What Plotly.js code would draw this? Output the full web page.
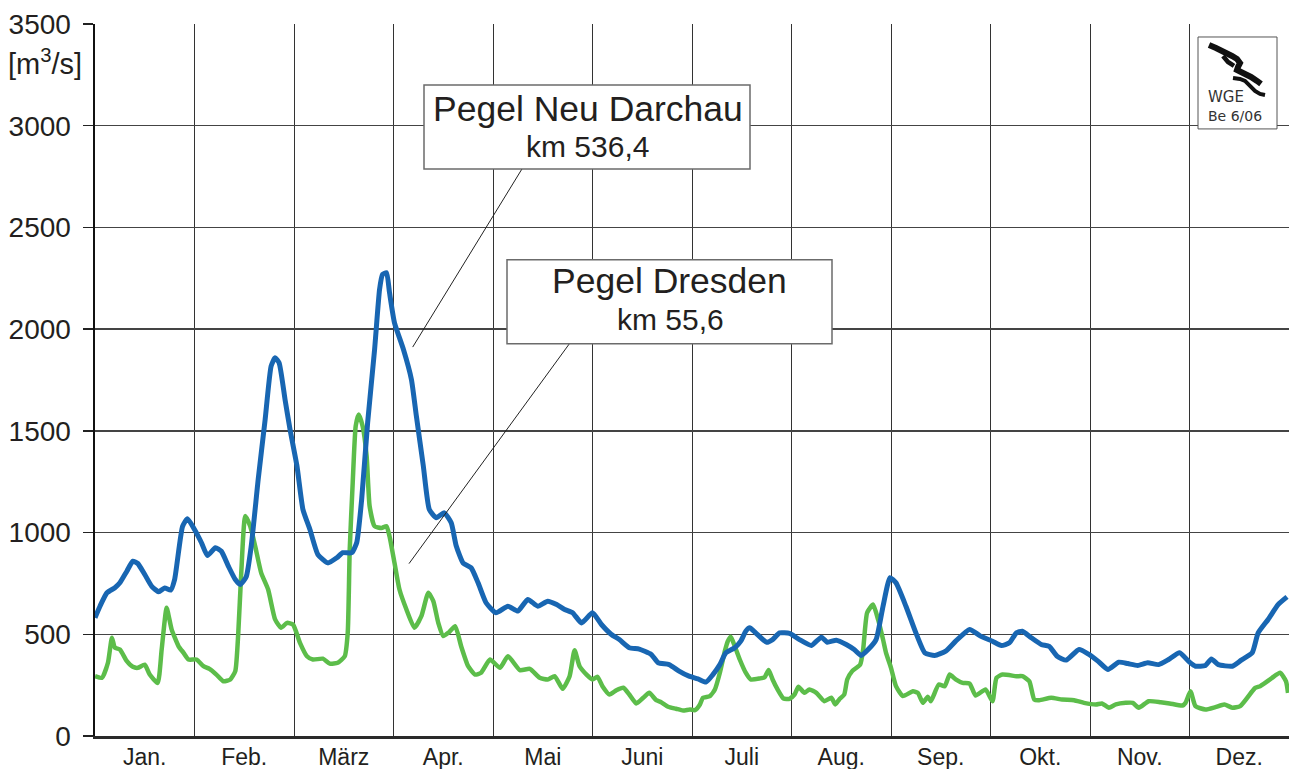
<!DOCTYPE html>
<html>
<head>
<meta charset="utf-8">
<script src="https://cdn.plot.ly/plotly-3.0.1.min.js"></script>
<style>
  html, body { margin: 0; padding: 0; background: #fff; }
  #chart { width: 1290px; height: 769px; }
</style>
</head>
<body>
<div id="chart"></div>
<script>
// ---------- data ----------
const monthLabels = ['Jan.', 'Feb.', 'März', 'Apr.', 'Mai', 'Juni', 'Juli', 'Aug.', 'Sep.', 'Okt.', 'Nov.', 'Dez.'];
const monthCenters = [0.5, 1.5, 2.5, 3.5, 4.5, 5.5, 6.5, 7.5, 8.5, 9.5, 10.5, 11.5];
const yTickVals = [0, 500, 1000, 1500, 2000, 2500, 3000, 3500];

// x = position in months (0 = 1 Jan, 12 = 31 Dec), value = discharge m3/s
const darchauX = [0.00,0.05,0.12,0.20,0.25,0.32,0.38,0.43,0.50,0.57,0.64,0.70,0.76,0.80,0.88,0.93,1.00,1.07,1.13,1.21,1.27,1.34,1.41,1.46,1.52,1.57,1.64,1.71,1.77,1.81,1.85,1.91,1.96,2.03,2.09,2.16,2.24,2.34,2.43,2.49,2.58,2.63,2.68,2.74,2.81,2.86,2.89,2.93,2.96,3.01,3.10,3.18,3.23,3.30,3.36,3.43,3.51,3.58,3.63,3.70,3.78,3.85,3.93,4.03,4.15,4.25,4.35,4.45,4.55,4.64,4.72,4.80,4.89,5.00,5.09,5.19,5.27,5.37,5.47,5.59,5.66,5.77,5.87,5.97,6.06,6.14,6.21,6.28,6.34,6.43,6.49,6.54,6.58,6.64,6.75,6.81,6.88,6.98,7.08,7.20,7.30,7.36,7.45,7.55,7.63,7.70,7.77,7.85,7.92,7.99,8.05,8.15,8.25,8.34,8.44,8.55,8.65,8.79,8.90,9.02,9.11,9.19,9.26,9.32,9.41,9.51,9.59,9.67,9.76,9.89,9.99,10.08,10.18,10.29,10.38,10.48,10.58,10.69,10.79,10.90,11.00,11.06,11.16,11.22,11.29,11.43,11.52,11.63,11.69,11.79,11.89,11.98];
const darchauQ = [581,638,704,729,753,810,859,848,794,736,709,728,717,769,1031,1068,1015,950,887,925,908,835,769,745,783,933,1261,1556,1818,1859,1835,1654,1507,1326,1113,1015,892,851,876,901,901,950,1163,1540,1900,2195,2269,2277,2179,2031,1900,1753,1572,1326,1113,1073,1097,1048,935,850,827,753,655,606,638,614,671,638,663,646,622,606,556,606,548,499,474,434,427,401,360,351,319,294,281,265,302,351,409,434,466,515,532,507,461,474,507,504,474,445,486,461,471,450,425,396,425,474,638,778,753,638,507,409,396,417,466,524,491,466,445,458,507,515,483,450,441,392,373,425,401,368,327,363,356,347,360,351,376,409,363,343,347,379,351,343,373,409,507,573,646,684];

const dresdenX = [0.00,0.07,0.13,0.17,0.20,0.25,0.32,0.38,0.43,0.50,0.55,0.63,0.67,0.72,0.77,0.84,0.89,0.94,1.02,1.09,1.15,1.22,1.29,1.36,1.41,1.44,1.47,1.51,1.56,1.61,1.67,1.74,1.81,1.87,1.93,1.99,2.06,2.13,2.19,2.29,2.36,2.44,2.51,2.54,2.56,2.59,2.62,2.65,2.69,2.73,2.76,2.81,2.88,2.93,2.96,3.01,3.06,3.13,3.21,3.28,3.35,3.40,3.45,3.50,3.55,3.62,3.68,3.75,3.82,3.88,3.97,4.07,4.15,4.27,4.37,4.47,4.55,4.62,4.70,4.77,4.82,4.87,4.94,5.00,5.05,5.10,5.17,5.24,5.31,5.37,5.44,5.51,5.57,5.64,5.69,5.76,5.84,5.91,5.98,6.03,6.08,6.11,6.18,6.23,6.28,6.33,6.36,6.39,6.43,6.48,6.54,6.59,6.68,6.73,6.77,6.81,6.86,6.92,6.98,7.03,7.07,7.13,7.18,7.25,7.33,7.40,7.44,7.48,7.53,7.56,7.61,7.69,7.72,7.76,7.82,7.87,7.92,7.95,8.00,8.05,8.12,8.22,8.27,8.32,8.37,8.40,8.48,8.54,8.59,8.65,8.72,8.79,8.85,8.95,9.02,9.06,9.12,9.26,9.32,9.39,9.44,9.49,9.61,9.72,9.84,9.94,10.06,10.12,10.19,10.26,10.36,10.43,10.49,10.59,10.71,10.80,10.93,10.96,11.01,11.06,11.16,11.26,11.35,11.43,11.51,11.63,11.66,11.71,11.76,11.83,11.91,11.97,11.99];
const dresdenQ = [294,286,360,483,434,425,368,340,335,351,302,261,425,630,524,441,409,376,376,343,330,302,269,278,319,507,802,1081,1031,933,802,720,573,532,556,548,458,392,376,380,356,360,392,507,917,1245,1523,1581,1523,1375,1130,1031,1023,1031,982,851,720,622,532,589,704,663,556,491,507,540,441,343,302,311,376,335,392,324,330,286,278,294,232,294,422,343,302,278,291,245,204,225,237,204,160,188,212,176,166,144,134,125,130,127,155,188,196,229,311,417,466,488,441,376,311,278,283,289,324,278,229,184,183,204,242,212,229,212,171,188,155,180,204,278,319,351,425,606,646,573,474,409,335,245,196,220,212,163,193,171,253,245,302,278,261,258,199,229,171,286,302,294,294,269,179,176,188,179,176,163,155,160,139,155,163,163,139,171,166,160,150,163,220,147,130,142,155,139,147,220,237,245,261,286,311,269,212];

// ---------- geometry helpers for decoration (pixel -> paper) ----------
const W = 1290, H = 769;
const M = { l: 95, r: 1, t: 24, b: 32.5 };
const PW = W - M.l - M.r, PH = H - M.t - M.b;
const px = x => (x - M.l) / PW;
const py = y => (H - M.b - y) / PH;
function pathFrom(points) {
  return points.map((p, i) => (i ? 'L' : 'M') + px(p[0]).toFixed(5) + ',' + py(p[1]).toFixed(5)).join(' ');
}

const FONT = 'Liberation Sans, Arial, Helvetica, sans-serif';
const TXT = '#231f20';

const traces = [
  {
    x: dresdenX, y: dresdenQ, type: 'scatter', mode: 'lines', name: 'Pegel Dresden',
    line: { color: '#5cbd4a', width: 4.5, shape: 'spline', smoothing: 0.5 }, hoverinfo: 'x+y'
  },
  {
    x: darchauX, y: darchauQ, type: 'scatter', mode: 'lines', name: 'Pegel Neu Darchau',
    line: { color: '#1866b2', width: 5, shape: 'spline', smoothing: 0.5 }, hoverinfo: 'x+y'
  }
];

const shapes = [
  // label boxes
  { type: 'rect', xref: 'paper', yref: 'paper', x0: px(424), x1: px(750), y0: py(169), y1: py(85),
    fillcolor: '#ffffff', line: { color: '#6b6b6b', width: 1.5 }, layer: 'above' },
  { type: 'rect', xref: 'paper', yref: 'paper', x0: px(507), x1: px(832), y0: py(344), y1: py(260),
    fillcolor: '#ffffff', line: { color: '#6b6b6b', width: 1.5 }, layer: 'above' },
  // leader lines
  { type: 'line', xref: 'paper', yref: 'paper', x0: px(521.7), y0: py(169.5), x1: px(412.7), y1: py(347.3),
    line: { color: '#222', width: 1 }, layer: 'above' },
  { type: 'line', xref: 'paper', yref: 'paper', x0: px(569), y0: py(344.5), x1: px(409), y1: py(564),
    line: { color: '#222', width: 1 }, layer: 'above' },
  // logo box
  { type: 'rect', xref: 'paper', yref: 'paper', x0: px(1198), x1: px(1277), y0: py(129), y1: py(37),
    fillcolor: '#ffffff', line: { color: '#555', width: 1 }, layer: 'above' },
  // logo strokes
  { type: 'path', xref: 'paper', yref: 'paper', layer: 'above',
    path: pathFrom([[1209,45],[1216,48],[1224,52],[1232,56],[1237,59],[1240,63],[1238,67],[1237,70],[1243,73],[1251,77],[1257,81],[1261,84]]),
    line: { color: '#111', width: 6 } },
  { type: 'path', xref: 'paper', yref: 'paper', layer: 'above',
    path: pathFrom([[1223,56],[1228,62],[1234,66]]),
    line: { color: '#111', width: 4.5 } },
  { type: 'path', xref: 'paper', yref: 'paper', layer: 'above',
    path: pathFrom([[1233,78],[1240,79],[1245,81],[1250,86],[1255,91],[1260,94],[1265,95]]),
    line: { color: '#111', width: 4 } }
];

const annotations = [
  { xref: 'paper', yref: 'paper', x: px(587.5), y: py(109), xanchor: 'center', yanchor: 'middle', showarrow: false,
    text: 'Pegel Neu Darchau', font: { family: FONT, size: 35.5, color: TXT } },
  { xref: 'paper', yref: 'paper', x: px(587.5), y: py(147), xanchor: 'center', yanchor: 'middle', showarrow: false,
    text: 'km 536,4', font: { family: FONT, size: 30, color: TXT } },
  { xref: 'paper', yref: 'paper', x: px(669.5), y: py(281), xanchor: 'center', yanchor: 'middle', showarrow: false,
    text: 'Pegel Dresden', font: { family: FONT, size: 35.5, color: TXT } },
  { xref: 'paper', yref: 'paper', x: px(670), y: py(320), xanchor: 'center', yanchor: 'middle', showarrow: false,
    text: 'km 55,6', font: { family: FONT, size: 30, color: TXT } },
  // unit
  { xref: 'paper', yref: 'paper', x: px(45), y: py(62), xanchor: 'center', yanchor: 'middle', showarrow: false,
    text: '[m<sup>3</sup>/s]', font: { family: FONT, size: 29, color: TXT } },
  // logo text
  { xref: 'paper', yref: 'paper', x: px(1206), y: py(97.5), xanchor: 'left', yanchor: 'middle', showarrow: false,
    text: 'WGE', font: { family: 'DejaVu Sans, sans-serif', size: 15, color: '#333' } },
  { xref: 'paper', yref: 'paper', x: px(1206), y: py(116), xanchor: 'left', yanchor: 'middle', showarrow: false,
    text: 'Be 6/06', font: { family: 'DejaVu Sans, sans-serif', size: 14, color: '#333' } }
];

const layout = {
  width: W, height: H,
  margin: { l: M.l, r: M.r, t: M.t, b: M.b, pad: 0 },
  paper_bgcolor: '#ffffff', plot_bgcolor: '#ffffff',
  showlegend: false,
  font: { family: FONT, color: TXT },
  xaxis: {
    range: [0, 12], fixedrange: true,
    tickmode: 'array', tickvals: monthCenters, ticktext: monthLabels,
    ticks: '', showgrid: false, zeroline: false,
    showline: true, linecolor: '#2a2a2a', linewidth: 3,
    tickfont: { family: FONT, size: 23, color: TXT },
    ticklabelstandoff: -2,
    minor: { tick0: 0, dtick: 1, showgrid: true, gridcolor: '#333333', gridwidth: 1, ticks: '' }
  },
  yaxis: {
    range: [0, 3500], fixedrange: true,
    tickmode: 'array', tickvals: yTickVals,
    ticks: 'outside', ticklen: 10, tickwidth: 1.5, tickcolor: '#222',
    showgrid: true, gridcolor: '#444444', gridwidth: 1.3, zeroline: false,
    showline: true, linecolor: '#111', linewidth: 2.5,
    tickfont: { family: FONT, size: 28, color: TXT },
    ticklabelstandoff: 6
  },
  shapes: shapes,
  annotations: annotations
};

Plotly.newPlot('chart', traces, layout, { displayModeBar: false, staticPlot: true });
</script>
</body>
</html>
